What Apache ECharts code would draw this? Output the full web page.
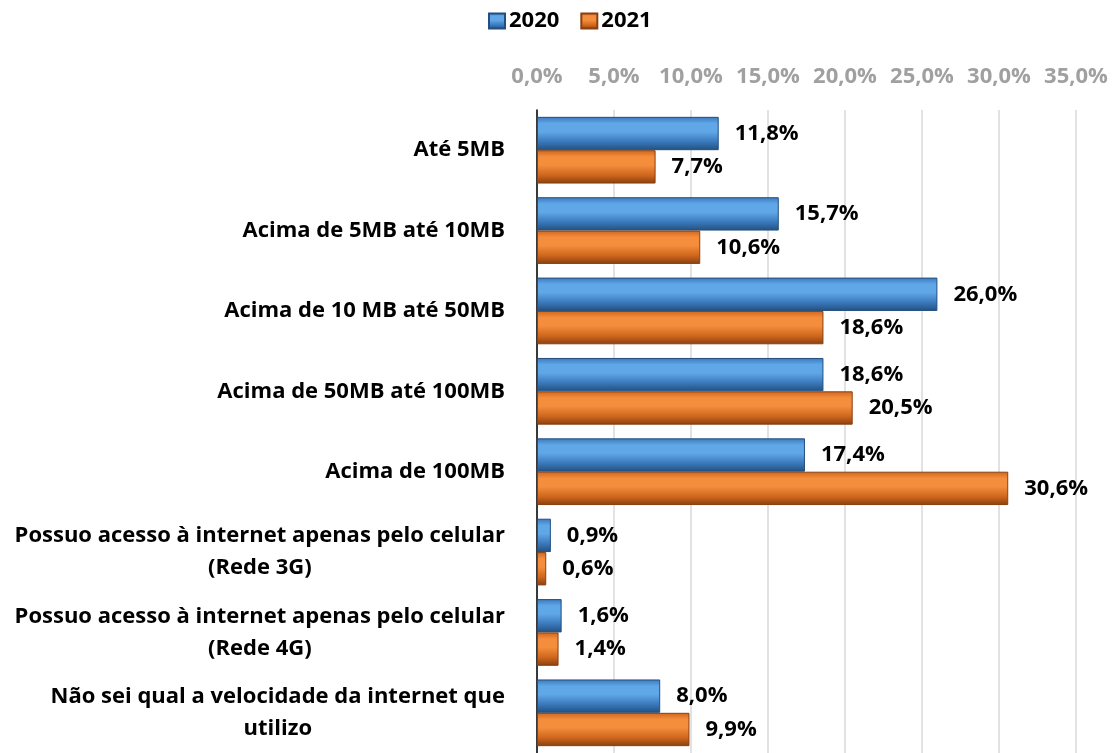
<!doctype html>
<html>
    <head>
        <meta charset="utf-8">
        <style>
            html, body { margin: 0; padding: 0; background: #fff; }
            #main { width: 1115px; height: 753px; }
        </style>
    </head>
    <body>
        <div id="main"></div>
        <script src="https://cdn.jsdelivr.net/npm/echarts@6/dist/echarts.min.js"></script>
        <script>
            var categories = [
                'Até 5MB',
                'Acima de 5MB até 10MB',
                'Acima de 10 MB até 50MB',
                'Acima de 50MB até 100MB',
                'Acima de 100MB',
                'Possuo acesso à internet apenas pelo celular\n(Rede 3G)',
                'Possuo acesso à internet apenas pelo celular\n(Rede 4G)',
                'Não sei qual a velocidade da internet que\nutilizo'
            ];
            var values2020 = [11.8, 15.7, 26.0, 18.6, 17.4, 0.9, 1.6, 8.0];
            var values2021 = [7.7, 10.6, 18.6, 20.5, 30.6, 0.6, 1.4, 9.9];
            var xTicks = [0, 5, 10, 15, 20, 25, 30, 35];

            var font = '"Open Sans", "Liberation Sans", sans-serif';

            function pct(v) {
                return v.toFixed(1).replace('.', ',') + '%';
            }

            function bevel(base, light, deep) {
                return new echarts.graphic.LinearGradient(0, 0, 0, 1, [
                    { offset: 0, color: base },
                    { offset: 0.2, color: light },
                    { offset: 0.45, color: light },
                    { offset: 0.75, color: base },
                    { offset: 1, color: deep }
                ]);
            }

            var valueLabel = {
                show: true,
                position: 'right',
                distance: 16,
                fontSize: 22,
                fontWeight: 'bold',
                color: '#000',
                fontFamily: font,
                formatter: function (p) { return pct(p.value); }
            };

            var chart = echarts.init(document.getElementById('main'));

            chart.setOption({
                animation: false,
                textStyle: { fontFamily: font },
                legend: {
                    top: 5,
                    left: 483,
                    itemWidth: 16,
                    itemHeight: 15,
                    itemGap: 21,
                    icon: 'rect',
                    textStyle: { fontSize: 22, fontWeight: 'bold', color: '#000', fontFamily: font, padding: [0, 0, 0, -1] }
                },
                grid: { left: 537, right: 39, top: 110, bottom: -5 },
                xAxis: {
                    type: 'value',
                    position: 'top',
                    min: xTicks[0],
                    max: xTicks[xTicks.length - 1],
                    interval: 5,
                    axisLine: { show: false },
                    axisTick: { show: false },
                    axisLabel: {
                        margin: 22,
                        fontSize: 22,
                        fontWeight: 'bold',
                        color: '#a0a0a0',
                        fontFamily: font,
                        formatter: function (v) { return pct(v); }
                    },
                    splitLine: { lineStyle: { color: '#d9d9d9', width: 1.5 } }
                },
                yAxis: {
                    type: 'category',
                    inverse: true,
                    data: categories,
                    axisLine: { lineStyle: { color: '#000', width: 1.5 } },
                    axisTick: { length: 6, lineStyle: { color: '#000', width: 1.5 } },
                    axisLabel: {
                        margin: 32,
                        fontSize: 22,
                        fontWeight: 'bold',
                        color: '#000',
                        fontFamily: font,
                        lineHeight: 32,
                        formatter: function (v) {
                            return v.split('\n').map(function (s) { return '{a|' + s + '}'; }).join('\n');
                        },
                        rich: {
                            a: { align: 'center', fontSize: 22, fontWeight: 'bold', color: '#000', fontFamily: font, lineHeight: 32 }
                        }
                    }
                },
                series: [
                    {
                        name: '2020',
                        type: 'bar',
                        data: values2020,
                        barGap: '0%',
                        barCategoryGap: '17%',
                        itemStyle: {
                            color: bevel('#3a78ba', '#60a7e8', '#22507f'),
                            borderColor: '#234f80',
                            borderWidth: 1
                        },
                        label: valueLabel
                    },
                    {
                        name: '2021',
                        type: 'bar',
                        data: values2021,
                        itemStyle: {
                            color: bevel('#cf661d', '#f48d3c', '#87400f'),
                            borderColor: '#8a3f10',
                            borderWidth: 1
                        },
                        label: valueLabel
                    }
                ]
            });

            window.onresize = chart.resize;
        </script>
    </body>
</html>
